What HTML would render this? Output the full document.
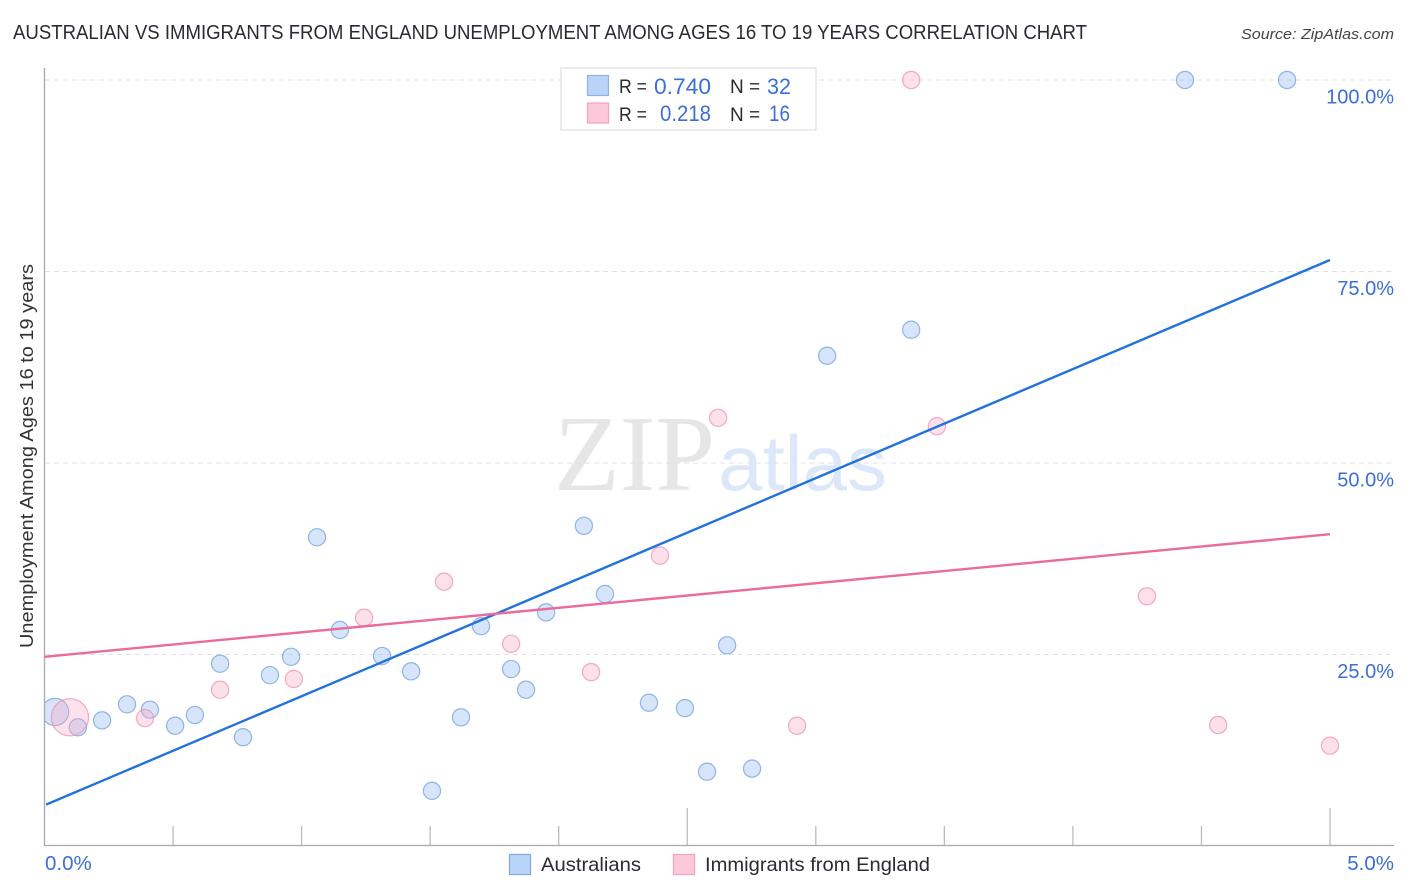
<!DOCTYPE html>
<html lang="en">
<head>
<meta charset="utf-8">
<title>Australian vs Immigrants from England Unemployment Correlation Chart</title>
<style>
html,body{margin:0;padding:0;background:#fff;width:1406px;height:892px;overflow:hidden}
svg{display:block;font-family:"Liberation Sans",sans-serif}
.blue{fill:#3b6fd6}
.dark{fill:#2a2a33}
</style>
</head>
<body>
<svg id="chart" width="1406" height="892" viewBox="0 0 1406 892" xmlns="http://www.w3.org/2000/svg">
  <defs>
    <clipPath id="plot-clip"><rect x="45" y="0" width="1361" height="892"/></clipPath>
  </defs>
  <text x="13" y="39" font-size="20" class="dark" textLength="1074" lengthAdjust="spacingAndGlyphs">AUSTRALIAN VS IMMIGRANTS FROM ENGLAND UNEMPLOYMENT AMONG AGES 16 TO 19 YEARS CORRELATION CHART</text>
  <text x="1241" y="39" font-size="15" font-style="italic" fill="#444" textLength="153" lengthAdjust="spacingAndGlyphs">Source: ZipAtlas.com</text>

  <g>
    <text x="554" y="490" font-family="'Liberation Serif',serif" font-size="108" fill="#e6e6e6" textLength="161" lengthAdjust="spacingAndGlyphs">ZIP</text>
    <text x="718" y="490" font-family="'Liberation Sans',sans-serif" font-size="78" fill="#dce8fa" textLength="169" lengthAdjust="spacingAndGlyphs">atlas</text>
  </g>

  <g id="grid"></g>
  <g id="points" clip-path="url(#plot-clip)"></g>
  <g id="axes"></g>
  <g id="trends"></g>
  <g id="labels"></g>

  <text transform="translate(33,456) rotate(-90)" text-anchor="middle" font-size="18.5" fill="#333" textLength="384" lengthAdjust="spacingAndGlyphs">Unemployment Among Ages 16 to 19 years</text>

  <g>
    <rect x="561" y="68" width="255" height="62" fill="#fff" stroke="#dedede" stroke-width="1.2"/>
    <rect x="587.5" y="75.5" width="21" height="20" fill="#b9d4f8" stroke="#8db4ea" stroke-width="1.2"/>
    <rect x="587.5" y="103" width="21" height="20" fill="#fcc8da" stroke="#f4a3bd" stroke-width="1.2"/>
    <text x="619" y="93" font-size="19" class="dark" textLength="28" lengthAdjust="spacingAndGlyphs">R =</text>
    <text x="654" y="94" font-size="22" class="blue" textLength="57" lengthAdjust="spacingAndGlyphs">0.740</text>
    <text x="730" y="93" font-size="19" class="dark">N =</text>
    <text x="767" y="94" font-size="22" class="blue" textLength="24" lengthAdjust="spacingAndGlyphs">32</text>
    <text x="619" y="121" font-size="19" class="dark" textLength="28" lengthAdjust="spacingAndGlyphs">R =</text>
    <text x="660" y="121" font-size="22" class="blue" textLength="51" lengthAdjust="spacingAndGlyphs">0.218</text>
    <text x="730" y="121" font-size="19" class="dark">N =</text>
    <text x="769" y="121" font-size="22" class="blue" textLength="21" lengthAdjust="spacingAndGlyphs">16</text>
  </g>

  <g>
    <rect x="509.5" y="854.5" width="21" height="20" fill="#b9d4f8" stroke="#7faae0" stroke-width="1.2"/>
    <text x="541" y="871" font-size="19.5" class="dark" textLength="100" lengthAdjust="spacingAndGlyphs">Australians</text>
    <rect x="673.5" y="854.5" width="21" height="20" fill="#fcc8da" stroke="#f4a3bd" stroke-width="1.2"/>
    <text x="705" y="871" font-size="19.5" class="dark" textLength="225" lengthAdjust="spacingAndGlyphs">Immigrants from England</text>
  </g>
</svg>
<script>
// Chart data (x and y are percentages)
const yTickValues = [25, 50, 75, 100];
const yTickLabels = ["25.0%", "50.0%", "75.0%", "100.0%"];
const xTickValues = [0.5, 1, 1.5, 2, 2.5, 3, 3.5, 4, 4.5, 5];
const xMajorTicks = [2.5, 5];
const xEndValues = [0, 5];
const xEndLabels = ["0.0%", "5.0%"];

const australiansX = [0.041,0.130,0.224,0.321,0.410,0.508,0.585,0.683,0.772,0.877,0.959,1.060,1.149,1.313,1.426,1.507,1.620,1.698,1.815,1.873,1.951,2.098,2.180,2.351,2.491,2.577,2.655,2.752,3.044,3.371,4.436,4.833];
const australiansY = [17.5,15.5,16.4,18.5,17.8,15.7,17.1,23.8,14.2,22.3,24.7,40.3,28.2,24.8,22.8,7.2,16.8,28.7,23.1,20.4,30.5,41.8,32.9,18.7,18.0,9.7,26.2,10.1,64.0,67.4,100,100];
const australiansWeight = [2.5,1,1,1,1,1,1,1,1,1,1,1,1,1,1,1,1,1,1,1,1,1,1,1,1,1,1,1,1,1,1,1];

const immigrantsX = [0.099,0.391,0.683,0.970,1.243,1.554,1.815,2.126,2.394,2.620,2.927,3.371,3.471,4.288,4.565,5.0];
const immigrantsY = [16.8,16.7,20.4,21.8,29.8,34.5,26.4,22.7,37.9,55.9,15.7,100,54.8,32.6,15.8,13.1];
const immigrantsWeight = [4.7,1,1,1,1,1,1,1,1,1,1,1,1,1,1,1];

const australiansTrendX = [0.006, 5];
const australiansTrendY = [5.4, 76.5];
const immigrantsTrendX = [0, 5];
const immigrantsTrendY = [24.7, 40.7];

// Axis functions
function xScale(v) { return 44.5 + v * 257.1; }
function yScale(v) { return 846 - v * 7.66; }
function radius(w) { return 8.6 * Math.sqrt(w); }

const SVG_NS = "http://www.w3.org/2000/svg";
function make(tag, attrs, parent) {
  const el = document.createElementNS(SVG_NS, tag);
  for (const k in attrs) el.setAttribute(k, attrs[k]);
  parent.appendChild(el);
  return el;
}

const gridG = document.getElementById("grid");
const axesG = document.getElementById("axes");
const pointsG = document.getElementById("points");
const trendsG = document.getElementById("trends");
const labelsG = document.getElementById("labels");

yTickValues.forEach(function (v, i) {
  const line = make("line", { x1: 45, x2: 1394, y1: yScale(v), y2: yScale(v), stroke: "#e2e0e2", "stroke-width": 1, "stroke-dasharray": "5 4" }, gridG);
  
  
  const label = make("text", { x: 1394, y: yScale(v) + 23.5, "text-anchor": "end", "font-size": 20, class: "blue" }, labelsG);
  label.textContent = yTickLabels[i];
  
  
});

const yAxisLine = make("line", { x1: 44.5, x2: 44.5, y1: 68, y2: 846, stroke: "#aaa", "stroke-width": 1.3 }, axesG);


const xAxisLine = make("line", { x1: 44, x2: 1394, y1: 845.5, y2: 845.5, stroke: "#aaa", "stroke-width": 1.3 }, axesG);



xTickValues.forEach(function (v) {
  const major = xMajorTicks.includes(v);
  const tick = make("line", { x1: xScale(v), x2: xScale(v), y1: major ? 808 : 826, y2: 845, stroke: "#bbb", "stroke-width": 1.3 }, axesG);
  
  
});

xEndValues.forEach(function (v, i) {
  const label = make("text", { x: i === 0 ? xScale(v) + 0.5 : xScale(v) + 64, y: 870, "text-anchor": i === 0 ? "start" : "end", "font-size": 20.5, class: "blue" }, labelsG);
  label.textContent = xEndLabels[i];
  
  
});

australiansX.forEach(function (v, i) {
  const dot = make("circle", { cx: xScale(v), cy: yScale(australiansY[i]), r: radius(australiansWeight[i]), fill: "#8db8f0", "fill-opacity": 0.36, stroke: "#5f93dc", "stroke-opacity": 0.65, "stroke-width": 1.2 }, pointsG);
  
  
});

immigrantsX.forEach(function (v, i) {
  const dot = make("circle", { cx: xScale(v), cy: yScale(immigrantsY[i]), r: radius(immigrantsWeight[i]), fill: "#f8a8c4", "fill-opacity": 0.36, stroke: "#ee8aac", "stroke-opacity": 0.7, "stroke-width": 1.2 }, pointsG);
  
  
});

const blueTrend = make("line", { x1: xScale(australiansTrendX[0]), y1: yScale(australiansTrendY[0]), x2: xScale(australiansTrendX[1]), y2: yScale(australiansTrendY[1]), stroke: "#2272dc", "stroke-width": 2.4 }, trendsG);



const pinkTrend = make("line", { x1: xScale(immigrantsTrendX[0]), y1: yScale(immigrantsTrendY[0]), x2: xScale(immigrantsTrendX[1]), y2: yScale(immigrantsTrendY[1]), stroke: "#ea6b9c", "stroke-width": 2.4 }, trendsG);


</script>
</body>
</html>
